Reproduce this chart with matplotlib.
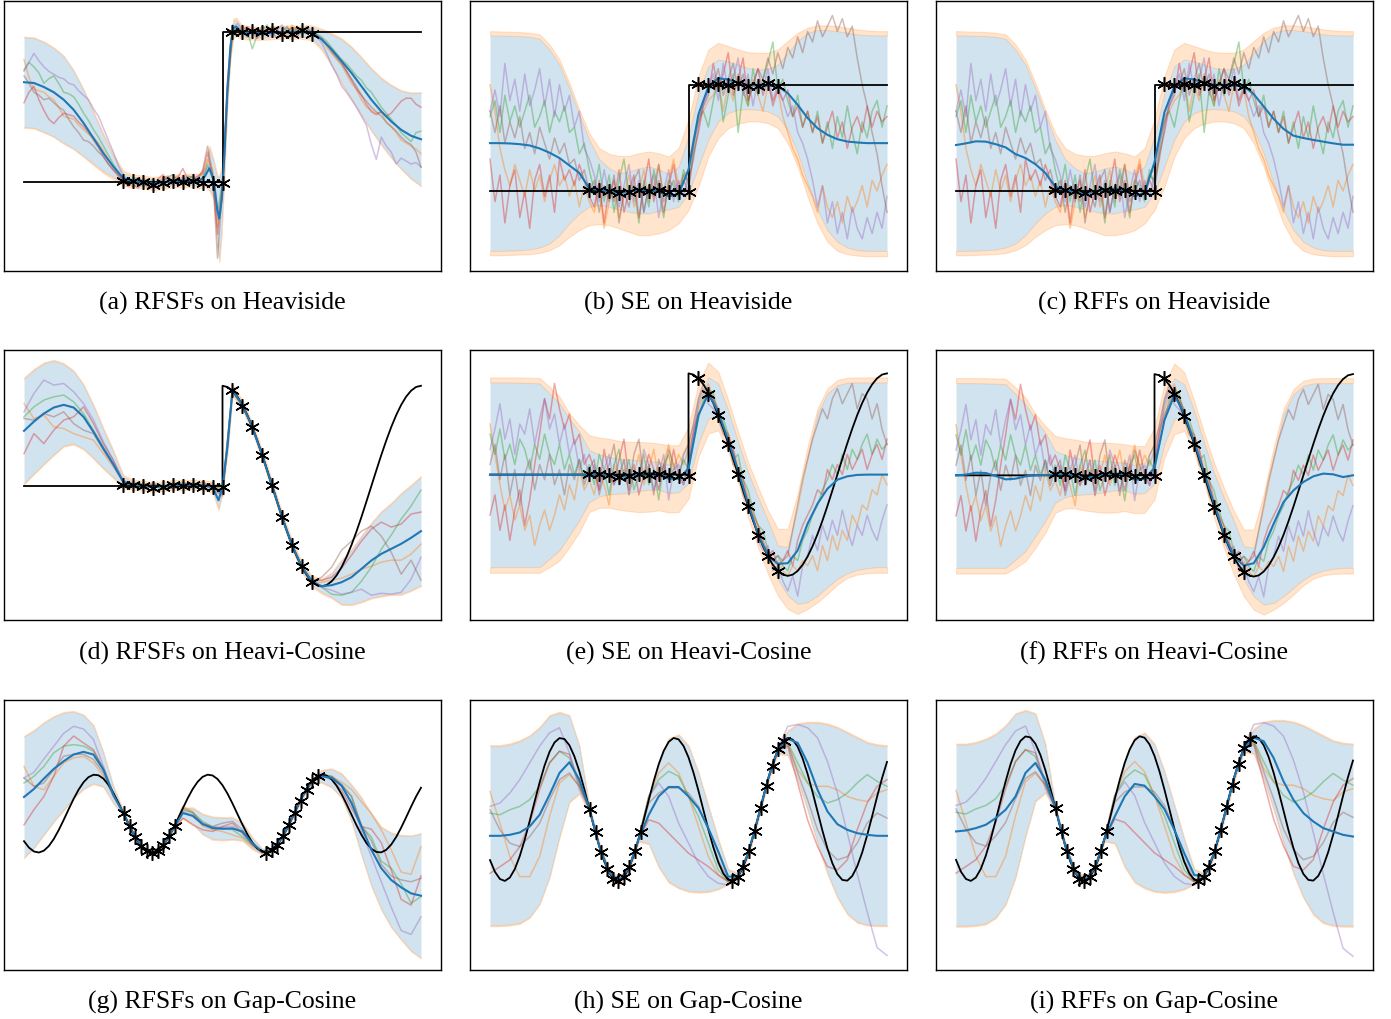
import numpy as np
import matplotlib.pyplot as plt

plt.rcParams['font.family'] = ['Liberation Serif', 'DejaVu Serif']

x41 = np.linspace(0, 1, 41)
x81 = np.linspace(0, 1, 81)

# ---------------- observations ----------------
obs_x_step = [0.25, 0.275, 0.3, 0.325, 0.35, 0.375, 0.4, 0.425, 0.45, 0.475, 0.5,
              0.525, 0.55, 0.575, 0.6, 0.625, 0.65, 0.675, 0.7, 0.725]
obs_heavi = [0.01, 0.01, 0.0, -0.02, -0.01, 0.01, 0.0, 0.01, -0.005, -0.01, -0.01,
             1.005, 1.0, 1.01, 1.0, 1.015, 0.99, 0.99, 1.015, 0.99]
obs_hcos = [0.01, 0.01, 0.0, -0.02, -0.01, 0.01, 0.0, 0.01, -0.005, -0.01, -0.01,
            0.957, 0.80, 0.59, 0.307, 0.007, -0.31, -0.593, -0.80, -0.953]
obs_x_gap = [0.252, 0.266, 0.280, 0.295, 0.309, 0.323, 0.337, 0.351, 0.366, 0.380,
             0.609, 0.624, 0.638, 0.653, 0.668, 0.682, 0.697, 0.712, 0.726, 0.741]
obs_gap = [0.01, -0.31, -0.59, -0.83, -0.97, -1.0, -0.95, -0.81, -0.58, -0.31,
           -1.0, -0.94, -0.81, -0.58, -0.30, 0.02, 0.33, 0.61, 0.84, 0.96]

# ---------------- true functions ----------------
heavi_x = [0.0, 0.5, 0.5, 1.0]
heavi_y = [0.0, 0.0, 1.0, 1.0]
hcos_x = np.concatenate([[0.0, 0.5], np.linspace(0.5, 1.0, 41)])
hcos_y = [0.0, 0.0,
          1.0, 0.988, 0.951, 0.891, 0.809, 0.707, 0.588, 0.454, 0.309, 0.156, 0.0,
          -0.156, -0.309, -0.454, -0.588, -0.707, -0.809, -0.891, -0.951, -0.988, -1.0,
          -0.988, -0.951, -0.891, -0.809, -0.707, -0.588, -0.454, -0.309, -0.156, 0.0,
          0.156, 0.309, 0.454, 0.588, 0.707, 0.809, 0.891, 0.951, 0.988, 1.0]
gap_y = [-0.708, -0.873, -0.972, -0.999, -0.952, -0.833, -0.652, -0.422, -0.161, 0.112,
         0.377, 0.614, 0.805, 0.935, 0.996, 0.983, 0.896, 0.742, 0.533, 0.284,
         0.014, -0.257, -0.510, -0.724, -0.883, -0.977, -0.998, -0.945, -0.820, -0.635,
         -0.402, -0.139, 0.134, 0.397, 0.631, 0.817, 0.943, 0.998, 0.978, 0.886,
         0.727, 0.514, 0.263, -0.008, -0.278, -0.528, -0.738, -0.893, -0.982, -0.997,
         -0.937, -0.808, -0.618, -0.382, -0.118, 0.155, 0.417, 0.647, 0.829, 0.950,
         0.999, 0.974, 0.876, 0.712, 0.496, 0.242, -0.029, -0.299, -0.546, -0.753,
         -0.903, -0.985, -0.995, -0.930, -0.795, -0.602, -0.362, -0.097, 0.176, 0.436,
         0.663]

# ---------------- panel (a): RFSFs on Heaviside ----------------
a_x = [0, .025, .05, .075, .1, .125, .15, .175, .2, .225, .25, .275, .3, .325, .35, .375,
       .4, .425, .44, .455, .467, .478, .487, .492, .498, .505, .512, .52, .528, .535, .545,
       .56, .6, .65, .7, .725, .75, .775, .8, .825, .85, .875, .9, .925, .95, .975, 1.0]
a_mean = [0.667, 0.662, 0.635, 0.60, 0.55, 0.483, 0.394, 0.293, 0.192, 0.103, 0.025, 0.005,
          0.0, -0.01, -0.005, 0.007, 0.009, 0.012, 0.005, 0.036, 0.092, 0.013, -0.188, -0.244,
          -0.12, 0.19, 0.595, 0.908, 1.03, 1.038, 1.009, 0.998, 0.993, 1.002, 1.002, 0.998,
          0.953, 0.886, 0.808, 0.729, 0.64, 0.55, 0.472, 0.405, 0.349, 0.309, 0.286]
a_sd = [0.30, 0.30, 0.30, 0.295, 0.29, 0.26, 0.22, 0.17, 0.12, 0.07, 0.035, 0.03, 0.028, 0.028,
        0.028, 0.028, 0.028, 0.03, 0.035, 0.05, 0.13, 0.12, 0.22, 0.28, 0.2, 0.12, 0.08, 0.06,
        0.05, 0.045, 0.035, 0.03, 0.028, 0.028, 0.03, 0.035, 0.06, 0.1, 0.145, 0.17, 0.19,
        0.205, 0.22, 0.24, 0.26, 0.285, 0.31]
a_sdy = [0.305, 0.305, 0.305, 0.30, 0.295, 0.265, 0.227, 0.18, 0.132, 0.085, 0.05, 0.045, 0.043,
         0.043, 0.043, 0.043, 0.043, 0.045, 0.05, 0.065, 0.15, 0.135, 0.23, 0.29, 0.215, 0.135,
         0.095, 0.075, 0.065, 0.06, 0.05, 0.045, 0.043, 0.043, 0.045, 0.05, 0.072, 0.11, 0.153,
         0.177, 0.197, 0.211, 0.226, 0.246, 0.265, 0.29, 0.315]
a_orange = [0.82, 0.70, 0.62, 0.61, 0.60, 0.57, 0.55, 0.50, 0.44, 0.43, 0.42, 0.38, 0.35, 0.32, 0.30, 0.26, 0.21, 0.15, 0.10, 0.05, 0.01,
            0.00, -0.04, 0.02, 0.01, -0.05, -0.02, 0.00, 0.03, -0.01, 0.02, 0.04, 0.00, 0.03, -0.01, 0.03, 0.05,
            0.15, 0.08, -0.30, -0.10, 0.55, 1.00,
            1.00, 1.04, 1.02, 0.98, 1.03, 0.97, 1.00, 1.03, 0.99, 1.02, 0.98, 1.05, 1.01, 1.03, 0.99,
            1.00, 0.98, 0.95, 0.90, 0.86, 0.82, 0.78, 0.72, 0.66, 0.62, 0.55, 0.50, 0.48, 0.46, 0.47, 0.40, 0.37, 0.33, 0.28, 0.26, 0.24, 0.22, 0.19]
a_green = [0.75, 0.80, 0.77, 0.73, 0.66, 0.69, 0.71, 0.66, 0.60, 0.59, 0.57, 0.52, 0.46, 0.41, 0.35, 0.30, 0.24, 0.18, 0.12, 0.07, 0.02,
           -0.02, 0.03, 0.01, -0.03, -0.01, 0.02, -0.04, 0.00, 0.03, 0.05, 0.01, -0.02, 0.02, 0.04, 0.00, 0.02,
           0.12, 0.02, -0.20, 0.00, 0.60, 1.05,
           1.03, 0.99, 1.01, 0.89, 0.98, 1.02, 1.05, 0.99, 1.01, 0.97, 1.03, 1.00, 1.04, 0.98, 1.02,
           1.00, 0.99, 0.97, 0.94, 0.90, 0.86, 0.82, 0.79, 0.75, 0.71, 0.68, 0.63, 0.60, 0.55, 0.50, 0.46, 0.42, 0.38, 0.33, 0.30, 0.27, 0.33, 0.34]
a_red = [0.53, 0.60, 0.64, 0.55, 0.48, 0.42, 0.39, 0.43, 0.46, 0.45, 0.44, 0.40, 0.37, 0.33, 0.28, 0.23, 0.17, 0.12, 0.08, 0.04, 0.01,
         -0.03, 0.01, -0.02, 0.02, -0.01, -0.04, 0.02, 0.05, 0.01, -0.02, 0.03, 0.09, 0.02, 0.01, 0.04, 0.06,
         0.20, 0.03, -0.35, 0.02, 0.68, 1.03,
         0.98, 1.01, 1.04, 1.00, 0.96, 1.01, 0.99, 1.04, 1.02, 0.98, 1.01, 1.03, 0.97, 1.02, 1.00,
         1.00, 0.98, 0.95, 0.92, 0.88, 0.84, 0.80, 0.74, 0.68, 0.62, 0.58, 0.52, 0.47, 0.45, 0.47, 0.44, 0.46, 0.50, 0.54, 0.56, 0.56, 0.52, 0.50]
a_purple = [0.74, 0.80, 0.86, 0.81, 0.77, 0.74, 0.72, 0.70, 0.69, 0.66, 0.65, 0.61, 0.58, 0.55, 0.49, 0.44, 0.36, 0.28, 0.20, 0.11, 0.04,
            0.02, -0.01, 0.03, 0.00, -0.03, 0.01, -0.02, 0.02, 0.04, 0.00, -0.01, 0.03, 0.01, 0.02, -0.02, 0.03,
            0.10, 0.05, -0.25, -0.05, 0.65, 1.02,
            1.06, 1.02, 0.98, 1.03, 0.99, 1.04, 1.01, 0.97, 1.02, 1.05, 1.00, 0.98, 1.03, 1.01, 1.04,
            1.00, 0.97, 0.93, 0.86, 0.78, 0.72, 0.64, 0.60, 0.55, 0.50, 0.44, 0.38, 0.25, 0.15, 0.30, 0.24, 0.20, 0.12, 0.16, 0.14, 0.12, 0.13, 0.10]
a_brown = [0.71, 0.66, 0.60, 0.58, 0.55, 0.56, 0.53, 0.50, 0.48, 0.42, 0.37, 0.33, 0.28, 0.27, 0.24, 0.20, 0.17, 0.12, 0.08, 0.05, 0.02,
           0.01, -0.02, -0.04, 0.00, 0.02, -0.03, -0.01, 0.01, 0.03, -0.01, 0.02, 0.01, 0.04, 0.03, 0.02, 0.08,
           0.24, 0.06, -0.51, -0.02, 0.62, 0.98,
           1.04, 1.00, 0.97, 1.02, 1.01, 0.98, 1.03, 1.00, 0.96, 1.01, 1.04, 0.99, 1.02, 1.00, 1.03,
           1.00, 0.98, 0.96, 0.92, 0.87, 0.83, 0.79, 0.74, 0.69, 0.64, 0.58, 0.54, 0.50, 0.47, 0.44, 0.40, 0.37, 0.34, 0.30, 0.27, 0.25, 0.20, 0.10]

# ---------------- panels (b), (c): SE / RFFs on Heaviside ----------------
bc_orange_hi = [1.503, 1.50, 1.497, 1.494, 1.487, 1.472, 1.377, 1.236, 1.016, 0.764, 0.544, 0.403, 0.349, 0.330,
                0.330, 0.355, 0.371, 0.355, 0.324, 0.403, 0.670, 1.079, 1.330, 1.393, 1.362, 1.330, 1.305, 1.299,
                1.299, 1.330, 1.409, 1.487, 1.535, 1.557, 1.557, 1.550, 1.535, 1.519, 1.509, 1.503, 1.503]
bc_blue_hi = [1.462, 1.462, 1.459, 1.456, 1.450, 1.431, 1.330, 1.189, 0.969, 0.717, 0.481, 0.299, 0.214, 0.167,
              0.182, 0.214, 0.230, 0.204, 0.160, 0.230, 0.513, 0.921, 1.173, 1.236, 1.220, 1.189, 1.157, 1.142,
              1.148, 1.189, 1.299, 1.409, 1.487, 1.513, 1.513, 1.503, 1.487, 1.472, 1.465, 1.462, 1.462]
bc_blue_lo = [-0.563, -0.563, -0.560, -0.557, -0.550, -0.531, -0.494, -0.415, -0.305, -0.211, -0.148, -0.132,
              -0.148, -0.173, -0.195, -0.211, -0.211, -0.186, -0.173, -0.148, -0.022, 0.230, 0.481, 0.654, 0.733,
              0.764, 0.770, 0.764, 0.748, 0.701, 0.575, 0.355, 0.072, -0.179, -0.368, -0.478, -0.531, -0.557,
              -0.563, -0.563, -0.563]
bc_orange_lo = [-0.604, -0.604, -0.601, -0.597, -0.594, -0.582, -0.557, -0.509, -0.431, -0.368, -0.321, -0.311,
                -0.321, -0.352, -0.384, -0.415, -0.415, -0.399, -0.368, -0.305, -0.179, 0.041, 0.324, 0.497, 0.591,
                0.632, 0.654, 0.654, 0.638, 0.591, 0.450, 0.230, -0.053, -0.305, -0.478, -0.563, -0.594, -0.607,
                -0.613, -0.613, -0.613]
b_mean = [0.45, 0.45, 0.447, 0.44, 0.428, 0.40, 0.36, 0.31, 0.24, 0.17, 0.025, 0.01, -0.003, -0.016, -0.006,
          0.01, 0.01, -0.006, -0.05, -0.03, 0.2, 0.72, 0.98, 1.06, 1.047, 1.016, 0.997, 0.99, 0.99, 0.984,
          0.92, 0.81, 0.686, 0.59, 0.528, 0.487, 0.465, 0.456, 0.45, 0.45, 0.45]
c_mean = [0.432, 0.448, 0.467, 0.464, 0.44, 0.41, 0.347, 0.31, 0.252, 0.17, 0.04, 0.006, -0.013, -0.02, -0.006,
          0.013, 0.022, 0.006, -0.05, -0.016, 0.27, 0.74, 0.98, 1.06, 1.047, 1.02, 0.997, 0.994, 0.99, 0.984,
          0.91, 0.795, 0.678, 0.584, 0.52, 0.498, 0.48, 0.464, 0.448, 0.435, 0.435]
bc_orange = [1.00, 0.75, 0.40, 0.20, 0.05, 0.25, 0.10, -0.05, 0.20, 0.00, 0.15, -0.10, 0.10, 0.25, 0.05, 0.15, -0.05,
             0.10, -0.15, 0.05, -0.10,
             -0.20, 0.05, -0.35, -0.10, 0.10, -0.25, -0.05, 0.15, -0.15, 0.00, 0.20, -0.10, 0.05, 0.25, -0.05, 0.10, 0.30, 0.05, 0.15, 0.20,
             0.50, 0.65, 0.75, 0.85,
             0.90, 1.05, 0.75, 1.00, 0.85, 1.10, 0.95, 0.80, 1.05, 0.90, 0.75, 1.00, 0.85, 0.95,
             0.70, 0.55, 0.40, 0.30, 0.15, 0.05,
             -0.05, -0.20, 0.05, -0.15, -0.25, -0.10, -0.30, -0.05, -0.20, -0.10, 0.05, -0.15, 0.10, 0.00, 0.15, 0.25]
bc_green = [0.70, 0.85, 0.55, 0.90, 0.65, 0.80, 0.60, 0.75, 0.90, 0.60, 0.70, 0.85, 0.55, 0.75, 0.65, 0.80, 0.55,
            0.60, 0.35, 0.45, 0.20,
            0.00, 0.25, -0.10, 0.15, -0.20, 0.10, 0.30, -0.05, 0.05, -0.30, 0.10, -0.15, 0.20, 0.00, -0.25, 0.10, 0.05, -0.10, 0.20, 0.05,
            0.40, 0.70, 0.75, 0.60,
            0.85, 1.05, 0.65, 0.90, 1.10, 0.55, 0.95, 0.80, 1.15, 0.90, 1.05, 1.20, 1.40, 0.95,
            1.05, 0.85, 0.70, 0.90, 0.60, 0.75,
            0.55, 0.75, 0.45, 0.65, 0.40, 0.70, 0.50, 0.80, 0.55, 0.35, 0.65, 0.50, 0.75, 0.85, 0.60, 0.80]
bc_red = [0.30, -0.10, 0.15, -0.30, 0.05, 0.20, -0.25, 0.00, -0.35, 0.10, 0.25, -0.05, 0.15, -0.20, 0.30, 0.10, 0.20,
          0.05, 0.25, 0.10, -0.05,
          -0.15, 0.10, -0.30, 0.05, -0.10, 0.20, -0.20, 0.00, 0.15, -0.25, 0.05, 0.30, -0.10, 0.10, -0.20, 0.05, 0.25, -0.05, 0.10, 0.00,
          0.35, 0.55, 0.80, 0.90,
          1.20, 0.95, 1.10, 1.30, 0.90, 1.05, 1.25, 0.85, 1.00, 1.15, 0.90, 1.05, 0.80, 0.95,
          0.85, 0.95, 0.70, 0.80, 0.60, 0.75,
          0.55, 0.70, 0.45, 0.60, 0.75, 0.50, 0.65, 0.40, 0.60, 0.70, 0.55, 0.80, 0.60, 0.75, 0.65, 0.70]
bc_purple = [0.75, 0.95, 0.70, 1.20, 0.85, 1.05, 0.75, 1.10, 0.80, 0.95, 1.15, 0.80, 1.05, 0.70, 1.00, 0.75, 0.90,
             0.60, 0.75, 0.40, 0.30,
             0.15, -0.10, 0.20, -0.05, 0.10, -0.15, 0.05, 0.25, -0.10, 0.10, -0.20, 0.05, 0.15, -0.25, 0.00, 0.20, -0.10, 0.10, -0.05, 0.15,
             0.45, 0.65, 0.80, 0.95,
             1.10, 0.85, 1.20, 0.95, 1.05, 1.25, 0.90, 1.10, 0.80, 1.05, 0.95, 1.15, 0.85, 1.00,
             0.85, 0.70, 0.80, 0.55, 0.45, 0.30,
             0.10, -0.15, 0.05, -0.30, -0.10, -0.40, -0.20, -0.45, -0.15, -0.35, -0.45, -0.25, -0.40, -0.20, -0.35, -0.05]
bc_brown = [0.75, 0.55, 0.80, 0.45, 0.65, 0.50, 0.70, 0.40, 0.55, 0.35, 0.60, 0.45, 0.30, 0.50, 0.35, 0.45, 0.25,
            0.30, 0.10, 0.20, 0.00,
            0.10, -0.20, 0.05, -0.10, 0.15, -0.30, 0.00, -0.15, 0.10, 0.20, -0.20, 0.05, -0.05, 0.25, -0.10, 0.00, 0.10, -0.05, 0.15, 0.10,
            0.30, 0.60, 0.85, 0.95,
            1.00, 1.15, 0.90, 1.05, 1.20, 0.95, 1.10, 0.85, 1.00, 1.15, 1.05, 1.25, 1.10, 1.30,
            1.15, 1.35, 1.25, 1.45, 1.30, 1.50,
            1.40, 1.60, 1.45, 1.55, 1.65, 1.50, 1.62, 1.45, 1.55, 1.25, 1.00, 0.80, 0.55, 0.35, 0.05, -0.20]

# ---------------- panel (d): RFSFs on Heavi-Cosine ----------------
d_x = [0, .025, .05, .075, .1, .125, .15, .175, .2, .225, .25, .275, .3, .325, .35, .375, .4, .425, .45, .475,
       .49, .5, .5125, .525, .55, .575, .6, .625, .65, .675, .7, .725, .75, .775, .8, .825, .85, .875, .9, .925,
       .95, .975, 1.0]
d_mean = [0.55, 0.643, 0.723, 0.783, 0.81, 0.783, 0.69, 0.54, 0.373, 0.217, 0.04, 0.013, 0.003, -0.01, -0.003,
          0.01, 0.01, 0.013, 0.007, -0.01, -0.143, -0.01, 0.39, 0.955, 0.809, 0.588, 0.309, 0.0, -0.309, -0.588,
          -0.809, -0.951, -1.0, -0.99, -0.96, -0.91, -0.827, -0.743, -0.677, -0.627, -0.577, -0.517, -0.45]
d_sd = [0.523, 0.517, 0.50, 0.467, 0.407, 0.36, 0.317, 0.26, 0.193, 0.127, 0.053, 0.03, 0.03, 0.03, 0.03, 0.03,
        0.03, 0.03, 0.03, 0.035, 0.08, 0.05, 0.05, 0.035, 0.03, 0.03, 0.03, 0.03, 0.03, 0.03, 0.03, 0.035, 0.06,
        0.12, 0.217, 0.27, 0.325, 0.37, 0.417, 0.45, 0.5, 0.52, 0.54]
d_sdy = [0.533, 0.527, 0.51, 0.477, 0.417, 0.37, 0.327, 0.27, 0.205, 0.14, 0.07, 0.05, 0.05, 0.05, 0.05, 0.05,
         0.05, 0.05, 0.05, 0.055, 0.1, 0.07, 0.07, 0.055, 0.05, 0.05, 0.05, 0.05, 0.05, 0.05, 0.05, 0.055, 0.075,
         0.13, 0.227, 0.28, 0.335, 0.38, 0.427, 0.46, 0.51, 0.53, 0.55]
d_orange = [0.823, 0.673, 0.707, 0.59, 0.573, 0.523, 0.49, 0.457, 0.323, 0.19, 0.04,
            -0.02, 0.02, 0.01, -0.02, 0.03, -0.01, 0.02, 0.00, 0.03, -0.04,
            0.96, 0.81, 0.59, 0.30, 0.00, -0.31, -0.59, -0.80, -0.96,
            -0.96, -0.94, -0.92, -0.88, -0.83, -0.80, -0.76, -0.74, -0.74, -0.68, -0.58]
d_green = [0.69, 0.79, 0.857, 0.89, 0.907, 0.84, 0.723, 0.557, 0.39, 0.223, 0.04,
           -0.01, 0.03, 0.00, -0.03, 0.02, 0.04, -0.01, 0.02, 0.00, -0.03,
           0.95, 0.80, 0.59, 0.32, -0.01, -0.30, -0.60, -0.80, -0.95,
           -1.01, -1.08, -1.09, -1.06, -0.95, -0.81, -0.63, -0.49, -0.33, -0.2, -0.04]
d_red = [0.323, 0.523, 0.423, 0.557, 0.657, 0.69, 0.79, 0.623, 0.423, 0.257, 0.04,
         0.03, 0.00, -0.02, 0.01, -0.03, 0.02, 0.01, 0.04, -0.01, -0.08,
         0.94, 0.81, 0.58, 0.31, 0.02, -0.31, -0.59, -0.81, -0.94,
         -0.94, -0.91, -0.82, -0.69, -0.55, -0.43, -0.36, -0.41, -0.38, -0.28, -0.26]
d_purple = [0.74, 0.923, 1.057, 1.007, 1.023, 0.94, 0.823, 0.657, 0.44, 0.257, 0.057,
            0.02, -0.02, 0.03, -0.01, 0.02, 0.00, 0.03, -0.02, 0.01, -0.06,
            0.96, 0.82, 0.60, 0.30, 0.01, -0.32, -0.58, -0.82, -0.96,
            -1.01, -1.04, -1.08, -1.06, -1.03, -1.09, -1.07, -1.08, -1.06, -0.93, -0.71]
d_brown = [0.673, 0.657, 0.723, 0.69, 0.74, 0.623, 0.557, 0.523, 0.357, 0.207, 0.04,
           0.01, -0.03, 0.02, 0.00, -0.02, 0.03, 0.00, 0.01, -0.03, -0.10,
           0.95, 0.80, 0.59, 0.31, 0.00, -0.31, -0.59, -0.81, -0.95,
           -0.91, -0.81, -0.64, -0.55, -0.45, -0.40, -0.50, -0.66, -0.88, -0.74, -0.94]

# ---------------- panels (e), (f): SE / RFFs on Heavi-Cosine ----------------
ef_orange_hi = [0.96, 0.96, 0.96, 0.96, 0.957, 0.954, 0.868, 0.769, 0.604, 0.488, 0.389, 0.366, 0.353, 0.333,
                0.323, 0.323, 0.317, 0.307, 0.29, 0.29, 0.472, 0.901, 1.106, 1.017, 0.736, 0.422, 0.125, -0.122,
                -0.353, -0.535, -0.535, -0.188, 0.274, 0.653, 0.851, 0.934, 0.957, 0.96, 0.96, 0.96, 0.96]
ef_blue_hi = [0.911, 0.911, 0.911, 0.908, 0.905, 0.901, 0.802, 0.703, 0.554, 0.422, 0.241, 0.201, 0.175, 0.155,
              0.149, 0.142, 0.135, 0.125, 0.102, 0.125, 0.307, 0.769, 0.96, 0.901, 0.637, 0.323, 0.026, -0.221,
              -0.452, -0.70, -0.716, -0.32, 0.175, 0.604, 0.802, 0.884, 0.908, 0.911, 0.911, 0.911, 0.911]
ef_blue_lo = [-0.914, -0.914, -0.914, -0.914, -0.914, -0.914, -0.832, -0.749, -0.601, -0.452, -0.271, -0.215,
              -0.195, -0.188, -0.182, -0.162, -0.149, -0.149, -0.182, -0.175, -0.083, 0.307, 0.554, 0.587, 0.389,
              0.109, -0.221, -0.518, -0.782, -1.03, -1.195, -1.277, -1.261, -1.195, -1.112, -1.03, -0.974,
              -0.941, -0.924, -0.914, -0.914]
ef_orange_lo = [-0.97, -0.97, -0.97, -0.97, -0.97, -0.97, -0.914, -0.848, -0.716, -0.568, -0.37, -0.327, -0.327,
                -0.347, -0.36, -0.37, -0.366, -0.353, -0.373, -0.37, -0.238, 0.175, 0.406, 0.439, 0.224, -0.073,
                -0.419, -0.716, -0.98, -1.195, -1.327, -1.376, -1.327, -1.261, -1.178, -1.086, -1.02, -0.987,
                -0.974, -0.97, -0.97]
e_mean = [0, 0, 0, 0, 0, 0, 0, 0, 0, 0, 0.005, 0.01, 0.003, -0.02, -0.015, 0.008, 0.015, 0.015, -0.04, -0.04,
          0.06, 0.587, 0.80, 0.62, 0.34, 0.043, -0.287, -0.584, -0.799, -0.881, -0.875, -0.749, -0.485, -0.287,
          -0.139, -0.05, -0.017, -0.003, 0, 0, 0]
f_mean = [0.0, 0.007, 0.026, 0.023, -0.007, -0.04, -0.033, -0.01, 0.0, 0.003, 0.01, 0.01, 0.003, -0.02, -0.015,
          0.008, 0.015, 0.015, -0.043, -0.036, 0.076, 0.545, 0.792, 0.611, 0.33, 0.033, -0.28, -0.578, -0.802,
          -0.891, -0.868, -0.71, -0.479, -0.264, -0.149, -0.066, -0.01, 0.017, 0.01, -0.017, 0.0]
ef_orange = [0.50, 0.20, -0.10, -0.35, -0.20, -0.45, -0.30, -0.55, -0.40, -0.70, -0.50, -0.35, -0.55, -0.40, -0.20, -0.35, -0.10,
             -0.25, 0.05, -0.15, -0.05,
             -0.20, 0.05, -0.10, -0.30, 0.10, -0.05, 0.15, -0.20, 0.00, 0.20, -0.10, 0.05, 0.25, -0.05, 0.10, 0.30, 0.05, 0.20, 0.10, 0.25,
             0.40, 0.65, 0.80, 0.90, 0.75, 0.60, 0.50, 0.35, 0.20, 0.00, -0.15, -0.30, -0.45, -0.60, -0.70, -0.80, -0.90, -0.85,
             -0.95, -1.00, -0.90, -0.95, -0.85, -0.90, -0.80, -0.95, -0.70, -0.85, -0.60, -0.75, -0.55, -0.65, -0.40, -0.50, -0.30, -0.35, -0.15, -0.20, 0.00, -0.10]
ef_green = [0.40, 0.20, 0.45, 0.15, 0.30, 0.10, 0.35, 0.25, 0.05, 0.30, 0.15, 0.40, 0.20, 0.10, 0.30, 0.05, 0.20,
            0.00, 0.15, -0.05, 0.10,
            -0.10, 0.20, 0.05, -0.20, 0.10, 0.25, -0.05, 0.15, -0.15, 0.00, 0.20, -0.10, 0.05, -0.25, 0.10, 0.20, -0.05, 0.00, 0.15, 0.05,
            0.30, 0.55, 0.75, 0.85, 0.80, 0.60, 0.55, 0.40, 0.15, 0.20, -0.05, -0.15, -0.35, -0.50, -0.55, -0.75, -0.85, -0.80,
            -0.90, -0.95, -0.80, -0.85, -0.65, -0.55, -0.40, -0.30, -0.15, -0.05, 0.10, 0.00, 0.20, 0.05, 0.25, 0.15, 0.30, 0.40, 0.20, 0.35, 0.25, 0.30]
ef_red = [-0.40, -0.20, -0.55, -0.30, -0.65, -0.35, -0.15, -0.50, -0.25, 0.10, 0.40, 0.75, 0.55, 0.90, 0.65, 0.45, 0.60,
          0.30, 0.40, 0.10, 0.20,
          0.05, -0.15, 0.25, 0.00, -0.10, 0.15, 0.35, -0.05, 0.10, -0.20, 0.00, 0.20, 0.05, -0.15, 0.10, -0.05, 0.25, 0.00, -0.10, 0.10,
          0.45, 0.60, 0.70, 0.85, 0.75, 0.65, 0.45, 0.40, 0.25, 0.05, -0.05, -0.25, -0.40, -0.50, -0.65, -0.80, -0.75, -0.90,
          -0.85, -0.75, -0.90, -0.65, -0.50, -0.40, -0.30, -0.15, -0.20, 0.05, -0.05, 0.10, 0.00, 0.20, 0.05, 0.15, 0.25, 0.05, 0.20, 0.30, 0.15, 0.35]
ef_purple = [0.25, 0.45, 0.70, 0.35, 0.55, 0.20, 0.50, 0.40, 0.65, 0.30, 0.55, 0.75, 0.45, 0.60, 0.30, 0.50, 0.20,
             0.35, 0.05, 0.20, -0.05,
             0.10, -0.15, 0.05, 0.20, -0.10, 0.00, 0.15, -0.20, 0.05, -0.05, 0.25, 0.10, -0.15, 0.00, 0.20, -0.25, 0.05, 0.10, -0.10, 0.15,
             0.40, 0.70, 0.85, 0.70, 0.65, 0.55, 0.45, 0.30, 0.25, 0.00, -0.10, -0.30, -0.40, -0.65, -0.75, -0.70, -0.95, -0.90,
             -1.05, -1.15, -1.00, -1.20, -0.90, -0.80, -0.60, -0.75, -0.50, -0.65, -0.45, -0.60, -0.35, -0.55, -0.70, -0.50, -0.60, -0.40, -0.55, -0.65, -0.45, -0.30]
ef_brown = [0.10, 0.30, -0.05, 0.20, -0.20, 0.05, -0.30, 0.00, 0.15, -0.15, 0.10, -0.05, 0.20, -0.10, 0.05, -0.20, 0.10,
            -0.05, 0.15, -0.10, 0.05,
            0.15, -0.20, 0.00, 0.10, 0.30, -0.10, 0.05, -0.15, 0.20, 0.35, -0.05, 0.10, -0.20, 0.15, 0.00, 0.25, 0.10, -0.05, 0.20, 0.30,
            0.50, 0.75, 0.90, 0.80, 0.70, 0.55, 0.40, 0.35, 0.10, 0.05, -0.20, -0.30, -0.45, -0.55, -0.70, -0.75, -0.85, -0.80,
            -0.85, -0.80, -0.55, -0.30, -0.05, 0.15, 0.35, 0.50, 0.65, 0.55, 0.75, 0.85, 0.70, 0.80, 0.90, 0.65, 0.80, 0.75, 0.55, 0.70, 0.45, 0.30]

# ---------------- panel (g): RFSFs on Gap-Cosine ----------------
g_mean = [0.425, 0.631, 0.897, 1.146, 1.343, 1.515, 1.584, 1.515, 1.129, 0.485, 0.014, -0.509, -0.883, -0.998,
          -0.820, -0.402, 0.013, -0.056, -0.27, -0.373, -0.39, -0.382, -0.459, -0.76, -0.974, -0.937, -0.618,
          -0.118, 0.417, 0.830, 0.957, 0.914, 0.717, 0.27, -0.33, -0.93, -1.403, -1.704, -1.893, -2.047, -2.107]
g_sd = [1.55, 1.5, 1.43, 1.34, 1.245, 1.1, 0.94, 0.74, 0.43, 0.21, 0.05, 0.04, 0.04, 0.04, 0.04, 0.05, 0.12, 0.2,
        0.25, 0.28, 0.28, 0.27, 0.22, 0.14, 0.06, 0.04, 0.04, 0.04, 0.04, 0.05, 0.15, 0.23, 0.3, 0.46, 0.73, 0.92,
        1.05, 1.2, 1.33, 1.47, 1.59]
g_sdy = [1.57, 1.52, 1.45, 1.36, 1.265, 1.12, 0.96, 0.76, 0.45, 0.23, 0.07, 0.06, 0.06, 0.06, 0.06, 0.07, 0.14,
         0.22, 0.27, 0.30, 0.30, 0.29, 0.24, 0.16, 0.08, 0.06, 0.06, 0.06, 0.06, 0.07, 0.17, 0.25, 0.32, 0.48, 0.75,
         0.94, 1.07, 1.22, 1.35, 1.49, 1.61]
g_orange = [1.21, 0.7, 0.61, 0.96, 1.3, 1.43, 1.47, 1.3, 0.96, 0.44, 0.03,
            -0.51, -0.88, -1.0, -0.82, -0.40,
            0.185, 0.056, -0.33, -0.416, -0.459, -0.545, -0.631, -0.845, -1.0,
            -0.93, -0.62, -0.12, 0.42, 0.83,
            1.0, 0.95, 0.81, 0.62, 0.3, 0.0, -0.42, -0.93, -1.5, -1.56, -0.85]
g_green = [0.785, 0.957, 1.21, 1.56, 1.73, 1.77, 1.73, 1.6, 1.17, 0.53, 0.03,
           -0.5, -0.88, -1.0, -0.82, -0.4,
           0.142, 0.03, -0.2, -0.347, -0.373, -0.416, -0.588, -0.8, -0.974,
           -0.94, -0.62, -0.12, 0.42, 0.83,
           1.0, 0.96, 0.73, 0.44, -0.33, -0.6, -1.22, -1.4, -1.8, -2.3, -2.13]
g_red = [-0.29, 0.1, 0.44, 0.96, 1.73, 1.99, 1.81, 1.64, 1.13, 0.53, 0.03,
         -0.52, -0.89, -0.99, -0.81, -0.41,
         -0.116, -0.288, -0.416, -0.459, -0.33, -0.245, -0.502, -0.8, -1.0,
         -0.94, -0.61, -0.12, 0.41, 0.83,
         0.98, 0.87, 0.6, 0.14, -0.33, -0.4, -0.75, -1.45, -2.2, -2.35, -1.6]
g_purple = [0.914, 1.06, 1.4, 1.73, 2.06, 2.24, 2.17, 1.9, 1.21, 0.49, 0.03,
            -0.49, -0.87, -1.0, -0.83, -0.39,
            0.056, -0.073, -0.288, -0.347, -0.347, -0.33, -0.502, -0.76, -1.0,
            -0.93, -0.62, -0.11, 0.42, 0.84,
            0.99, 0.91, 0.7, 0.3, -0.45, -1.1, -1.75, -2.4, -3.0, -3.1, -2.65]
g_brown = [0.914, 0.7, 0.785, 1.13, 1.47, 1.52, 1.52, 1.39, 1.04, 0.44, 0.03,
           -0.51, -0.88, -1.0, -0.82, -0.40,
           0.099, 0.013, -0.245, -0.33, -0.245, -0.2, -0.416, -0.76, -1.0,
           -0.94, -0.62, -0.12, 0.41, 0.83,
           0.99, 0.95, 0.75, 0.44, -0.3, -0.7, -1.3, -1.6, -1.7, -1.75, -1.66]

# ---------------- panels (h), (i): SE / RFFs on Gap-Cosine ----------------
hi_blue_hi = [0.883, 0.883, 0.907, 0.953, 1.023, 1.14, 1.304, 1.35, 1.304, 0.883, 0.042, -0.47, -0.84, -0.96,
              -0.78, -0.36, 0.136, 0.65, 0.977, 1.037, 0.883, 0.509, 0.042, -0.425, -0.846, -0.90, -0.58, -0.08,
              0.46, 0.87, 1.093, 1.187, 1.21, 1.21, 1.187, 1.14, 1.07, 1.0, 0.93, 0.897, 0.883]
hi_blue_lo = [-1.617, -1.617, -1.607, -1.584, -1.5, -1.313, -0.939, -0.379, 0.112, 0.229, -0.028, -0.55, -0.92,
              -1.04, -0.86, -0.44, -0.472, -0.799, -1.009, -1.089, -1.136, -1.15, -1.14, -1.103, -1.033, -0.98,
              -0.66, -0.16, 0.38, 0.79, 0.766, 0.416, -0.005, -0.472, -0.893, -1.22, -1.453, -1.57, -1.607,
              -1.617, -1.617]
h_mean = [-0.369, -0.369, -0.355, -0.322, -0.238, -0.075, 0.206, 0.509, 0.659, 0.416, 0.014, -0.509, -0.883,
          -0.998, -0.820, -0.402, -0.075, 0.182, 0.313, 0.313, 0.182, 0.019, -0.262, -0.589, -0.939, -0.937,
          -0.618, -0.118, 0.417, 0.830, 0.986, 0.93, 0.65, 0.276, -0.028, -0.206, -0.285, -0.332, -0.355,
          -0.369, -0.369]
i_mean = [-0.316, -0.302, -0.27, -0.224, -0.132, -0.016, 0.169, 0.492, 0.63, 0.40, 0.014, -0.509, -0.883, -0.998,
          -0.820, -0.402, -0.109, 0.169, 0.34, 0.316, 0.169, -0.007, -0.293, -0.617, -0.917, -0.937, -0.618,
          -0.118, 0.417, 0.830, 0.977, 0.931, 0.70, 0.376, 0.122, -0.062, -0.178, -0.27, -0.316, -0.363, -0.386]
hi_orange = [0.252, -0.192, -0.659, -0.939, -0.939, -0.659, -0.098, 0.369, 0.486, 0.322, 0.01,
             -0.50, -0.88, -1.0, -0.82, -0.40,
             0.182, 0.509, 0.65, 0.509, 0.182, -0.238, -0.659, -0.916, -1.009,
             -0.94, -0.62, -0.12, 0.42, 0.83,
             0.93, 0.556, 0.369, 0.322, 0.322, 0.276, 0.182, 0.136, 0.112, 0.229, 0.276]
hi_green = [-0.051, -0.075, -0.005, 0.042, 0.136, 0.322, 0.65, 0.813, 0.72, 0.346, 0.01,
            -0.51, -0.88, -1.0, -0.82, -0.40,
            0.182, 0.416, 0.533, 0.463, 0.182, -0.098, -0.472, -0.846, -1.009,
            -0.94, -0.62, -0.12, 0.42, 0.83,
            0.93, 0.65, 0.37, 0.18, 0.09, 0.136, 0.229, 0.369, 0.486, 0.393, 0.322]
hi_red = [-0.893, -0.8, -0.706, -0.519, -0.192, 0.276, 0.65, 0.813, 0.77, 0.37, 0.01,
          -0.52, -0.89, -1.01, -0.83, -0.41,
          -0.145, -0.192, -0.332, -0.472, -0.612, -0.706, -0.799, -0.916, -1.009,
          -0.95, -0.63, -0.13, 0.41, 0.82,
          0.883, 0.369, -0.145, -0.519, -0.799, -0.846, -0.706, -0.285, 0.089, 0.322, 0.416]
hi_purple = [0.042, 0.089, 0.229, 0.416, 0.65, 0.883, 1.07, 1.14, 0.79, 0.276, 0.02,
             -0.50, -0.87, -1.0, -0.81, -0.39,
             0.182, 0.369, 0.182, -0.192, -0.472, -0.752, -0.939, -1.033, -1.056,
             -0.95, -0.63, -0.12, 0.42, 0.84,
             1.16, 1.187, 1.14, 1.0, 0.67, 0.23, -0.33, -0.9, -1.43, -1.93, -2.04]
hi_brown = [-0.005, -0.285, -0.472, -0.519, -0.379, -0.192, 0.136, 0.416, 0.509, 0.322, 0.01,
            -0.51, -0.88, -1.0, -0.82, -0.40,
            0.089, 0.229, 0.299, 0.299, 0.229, 0.042, -0.285, -0.706, -0.986,
            -0.94, -0.62, -0.12, 0.41, 0.83,
            0.907, 0.51, 0.136, -0.285, -0.565, -0.706, -0.659, -0.472, -0.192, -0.051, -0.121]

captions = ['(a) RFSFs on Heaviside', '(b) SE on Heaviside', '(c) RFFs on Heaviside',
            '(d) RFSFs on Heavi-Cosine', '(e) SE on Heavi-Cosine', '(f) RFFs on Heavi-Cosine',
            '(g) RFSFs on Gap-Cosine', '(h) SE on Gap-Cosine', '(i) RFFs on Gap-Cosine']


def sym_band(x, mean, sd, sdy):
    m, s, sy = np.array(mean), np.array(sd), np.array(sdy)
    return dict(bx=x, b_lo=m - s, b_hi=m + s, o_lo=m - sy, o_hi=m + sy)


panels = [
    dict(mx=a_x, mean=a_mean, sx=x81, samples=[a_orange, a_green, a_red, a_purple, a_brown],
         tx=heavi_x, ty=heavi_y, ox=obs_x_step, oy=obs_heavi, ylim=(-0.595, 1.21),
         **sym_band(a_x, a_mean, a_sd, a_sdy)),
    dict(mx=x41, mean=b_mean, sx=x81, samples=[bc_orange, bc_green, bc_red, bc_purple, bc_brown],
         tx=heavi_x, ty=heavi_y, ox=obs_x_step, oy=obs_heavi, ylim=(-0.752, 1.786),
         bx=x41, b_lo=bc_blue_lo, b_hi=bc_blue_hi, o_lo=bc_orange_lo, o_hi=bc_orange_hi),
    dict(mx=x41, mean=c_mean, sx=x81, samples=[bc_orange, bc_green, bc_red, bc_purple, bc_brown],
         tx=heavi_x, ty=heavi_y, ox=obs_x_step, oy=obs_heavi, ylim=(-0.752, 1.786),
         bx=x41, b_lo=bc_blue_lo, b_hi=bc_blue_hi, o_lo=bc_orange_lo, o_hi=bc_orange_hi),
    dict(mx=d_x, mean=d_mean, sx=x41, samples=[d_orange, d_green, d_red, d_purple, d_brown],
         tx=hcos_x, ty=hcos_y, ox=obs_x_step, oy=obs_hcos, ylim=(-1.337, 1.357),
         **sym_band(d_x, d_mean, d_sd, d_sdy)),
    dict(mx=x41, mean=e_mean, sx=x81, samples=[ef_orange, ef_green, ef_red, ef_purple, ef_brown],
         tx=hcos_x, ty=hcos_y, ox=obs_x_step, oy=obs_hcos, ylim=(-1.436, 1.231),
         bx=x41, b_lo=ef_blue_lo, b_hi=ef_blue_hi, o_lo=ef_orange_lo, o_hi=ef_orange_hi),
    dict(mx=x41, mean=f_mean, sx=x81, samples=[ef_orange, ef_green, ef_red, ef_purple, ef_brown],
         tx=hcos_x, ty=hcos_y, ox=obs_x_step, oy=obs_hcos, ylim=(-1.429, 1.238),
         bx=x41, b_lo=ef_blue_lo, b_hi=ef_blue_hi, o_lo=ef_orange_lo, o_hi=ef_orange_hi),
    dict(mx=x41, mean=g_mean, sx=x41, samples=[g_orange, g_green, g_red, g_purple, g_brown],
         tx=x81, ty=gap_y, ox=obs_x_gap, oy=obs_gap, ylim=(-4.013, 2.914),
         **sym_band(x41, g_mean, g_sd, g_sdy)),
    dict(mx=x41, mean=h_mean, sx=x41, samples=[hi_orange, hi_green, hi_red, hi_purple, hi_brown],
         tx=x81, ty=gap_y, ox=obs_x_gap, oy=obs_gap, ylim=(-2.243, 1.528),
         bx=x41, b_lo=hi_blue_lo, b_hi=hi_blue_hi,
         o_lo=np.array(hi_blue_lo) - 0.015, o_hi=np.array(hi_blue_hi) + 0.015),
    dict(mx=x41, mean=i_mean, sx=x41, samples=[hi_orange, hi_green, hi_red, hi_purple, hi_brown],
         tx=x81, ty=gap_y, ox=obs_x_gap, oy=obs_gap, ylim=(-2.229, 1.499),
         bx=x41, b_lo=hi_blue_lo, b_hi=hi_blue_hi,
         o_lo=np.array(hi_blue_lo) - 0.015, o_hi=np.array(hi_blue_hi) + 0.015),
]

sample_colors = ['C1', 'C2', 'C3', 'C4', 'C5']

fig = plt.figure(figsize=(13.91, 10.19), dpi=100)
lefts = [4 / 1391, 470 / 1391, 936 / 1391]
bottoms = [1 - 271 / 1019, 1 - 620 / 1019, 1 - 970 / 1019]
w, h = 437 / 1391, 270 / 1019
cap_x = [222.5 / 1391, 688.5 / 1391, 1154.5 / 1391]
cap_y = [1 - 303 / 1019, 1 - 653 / 1019, 1 - 1002 / 1019]

for n, p in enumerate(panels):
    r, c = divmod(n, 3)
    ax = fig.add_axes([lefts[c], bottoms[r], w, h])
    bx = p['bx']
    ax.fill_between(bx, p['b_hi'], p['o_hi'], color='C1', alpha=0.2, lw=0.8)
    ax.fill_between(bx, p['o_lo'], p['b_lo'], color='C1', alpha=0.2, lw=0.8)
    ax.fill_between(bx, p['b_lo'], p['b_hi'], color='C0', alpha=0.2, lw=0)
    for s, col in zip(p['samples'], sample_colors):
        ax.plot(p['sx'], s, color=col, alpha=0.4, lw=1.1)
    ax.plot(p['tx'], p['ty'], color='black', lw=1.3)
    ax.plot(p['mx'], p['mean'], color='C0', lw=1.5)
    ax.plot(p['ox'], p['oy'], ls='none', marker=(6, 2, 0), ms=10.5, color='black', mew=1.1)
    ax.set_xlim(-0.0504, 1.0504)
    ax.set_ylim(*p['ylim'])
    ax.set_xticks([])
    ax.set_yticks([])
    for sp in ax.spines.values():
        sp.set_linewidth(1.0)
    fig.text(cap_x[c], cap_y[r], captions[n], ha='center', va='center', fontsize=18.5)

fig.savefig('out.png', dpi=100)
